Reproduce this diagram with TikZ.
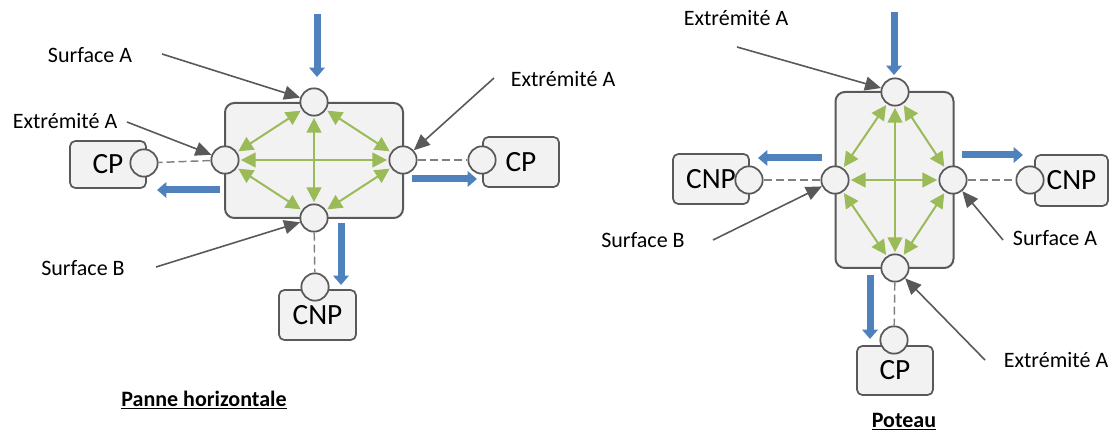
\documentclass[tikz,border=0pt]{standalone}
\usepackage{fontspec}
\setmainfont{Carlito}
\usetikzlibrary{arrows.meta}

\definecolor{ink}{HTML}{595959}
\definecolor{panel}{HTML}{F2F2F2}
\definecolor{leaf}{HTML}{9BBB59}
\definecolor{steel}{HTML}{4F81BD}
\definecolor{dash}{HTML}{808080}

\begin{document}
\begin{tikzpicture}[
  x=0.75pt, y=-0.75pt,
  font=\fontsize{16.5}{19}\selectfont,
  member/.style={draw=ink, fill=panel, line width=1.5pt, rounded corners=7pt, inner sep=0pt},
  joint/.style={circle, draw=ink, fill=panel, line width=1.3pt, minimum size=20.5pt, inner sep=0pt},
  support/.style={draw=ink, fill=panel, line width=1.3pt, rounded corners=4pt, inner sep=0pt,
                  font=\fontsize{22}{25}\selectfont},
  flow/.style={{Triangle[length=11pt,width=11pt]}-{Triangle[length=11pt,width=11pt]},
               line width=1.5pt, draw=leaf, shorten <=1pt, shorten >=1pt},
  ptr/.style={-{Triangle[length=12pt,width=10.5pt]}, line width=1.2pt, draw=ink},
  load/.style={-{Triangle[length=7pt,width=11.5pt]}, line width=5.25pt, draw=steel},
  tie/.style={dash pattern=on 6pt off 3pt, line width=1.1pt, draw=dash},
  lab/.style={inner sep=0pt},
  title/.style={inner sep=0pt, font=\fontsize{16.5}{19}\selectfont\bfseries}
]
\useasboundingbox (0,0) rectangle (1110,434);

% ---------------- panne horizontale ----------------
\node[member, minimum width=133.5pt, minimum height=86.25pt] (panne) at (314,160.5) {};

\node[support, minimum width=57pt, minimum height=35.25pt] (cpa) at (108,164.5) {CP};
\node[support, minimum width=57pt, minimum height=37.5pt] (cpb) at (521,162) {CP};
\node[support, minimum width=57.75pt, minimum height=37.5pt] (cnpa) at (317.5,315) {CNP};

\node[joint] (ka) at (144,163) {};
\node[joint] (kb) at (482,160) {};
\node[joint] (kc) at (315,287) {};

\node[joint] (t1) at (314,102) {};
\node[joint] (l1) at (225,160) {};
\node[joint] (r1) at (403,160) {};
\node[joint] (b1) at (314,218) {};

\draw[flow] (t1) -- (l1);
\draw[flow] (t1) -- (r1);
\draw[flow] (b1) -- (l1);
\draw[flow] (b1) -- (r1);
\draw[flow] (t1) -- (b1);
\draw[flow] (l1) -- (r1);

\draw[tie] (l1) -- (ka);
\draw[tie] (r1) -- (kb);
\draw[tie] (b1) -- (kc);

\node[lab] (sa) at (90,55) {Surface A};
\node[lab] (ea) at (65,121) {Extrémité A};
\node[lab] (eb) at (563,79) {Extrémité A};
\node[lab] (sb) at (83,268) {Surface B};
\coordinate (sa0) at (162,54);
\coordinate (ea0) at (127,122);
\coordinate (eb0) at (494,78);
\coordinate (sb0) at (156,267);
\draw[ptr] (sa0) -- (t1);
\draw[ptr] (ea0) -- (l1);
\draw[ptr] (eb0) -- (r1);
\draw[ptr] (sb0) -- (b1);

\coordinate (qa) at (317,14);  \coordinate (qa1) at (317,77);
\coordinate (qb) at (220,190); \coordinate (qb1) at (157,190);
\coordinate (qc) at (412,179); \coordinate (qc1) at (477,179);
\coordinate (qd) at (341,223); \coordinate (qd1) at (341,285);
\draw[load] (qa) -- (qa1);
\draw[load] (qb) -- (qb1);
\draw[load] (qc) -- (qc1);
\draw[load] (qd) -- (qd1);

\node[title] (ttl1) at (204,400) {\underline{Panne horizontale}};

% ---------------- poteau ----------------
\node[member, minimum width=88.5pt, minimum height=132pt] (poteau) at (894.5,180) {};

\node[support, minimum width=57pt, minimum height=37.5pt] (cnpb) at (711,179) {CNP};
\node[support, minimum width=54.75pt, minimum height=38.25pt] (cnpc) at (1071.5,180.5) {CNP};
\node[support, minimum width=57pt, minimum height=36.75pt] (cpc) at (895,370.5) {CP};

\node[joint] (kd) at (749,180) {};
\node[joint] (ke) at (1030,180) {};
\node[joint] (kf) at (894,340) {};

\node[joint] (t2) at (895,92) {};
\node[joint] (l2) at (835,180) {};
\node[joint] (r2) at (953,180) {};
\node[joint] (b2) at (895,268) {};

\draw[flow] (t2) -- (l2);
\draw[flow] (t2) -- (r2);
\draw[flow] (b2) -- (l2);
\draw[flow] (b2) -- (r2);
\draw[flow] (t2) -- (b2);
\draw[flow] (l2) -- (r2);

\draw[tie] (l2) -- (kd);
\draw[tie] (r2) -- (ke);
\draw[tie] (b2) -- (kf);

\node[lab] (ec) at (736,18) {Extrémité A};
\node[lab] (sc) at (643,240) {Surface B};
\node[lab] (sd) at (1055,238) {Surface A};
\node[lab] (ed) at (1056,360) {Extrémité A};
\coordinate (ec0) at (737,47);
\coordinate (sc0) at (713,240);
\coordinate (sd0) at (1003,240);
\coordinate (ed0) at (985,360);
\draw[ptr] (ec0) -- (t2);
\draw[ptr] (sc0) -- (l2);
\draw[ptr] (sd0) -- (r2);
\draw[ptr] (ed0) -- (b2);

\coordinate (qe) at (894,12);  \coordinate (qe1) at (894,75);
\coordinate (qf) at (822,158); \coordinate (qf1) at (758,158);
\coordinate (qg) at (962,155); \coordinate (qg1) at (1023,155);
\coordinate (qh) at (870,275); \coordinate (qh1) at (870,339);
\draw[load] (qe) -- (qe1);
\draw[load] (qf) -- (qf1);
\draw[load] (qg) -- (qg1);
\draw[load] (qh) -- (qh1);

\node[title] (ttl2) at (904,422) {\underline{Poteau}};

\end{tikzpicture}
\end{document}
